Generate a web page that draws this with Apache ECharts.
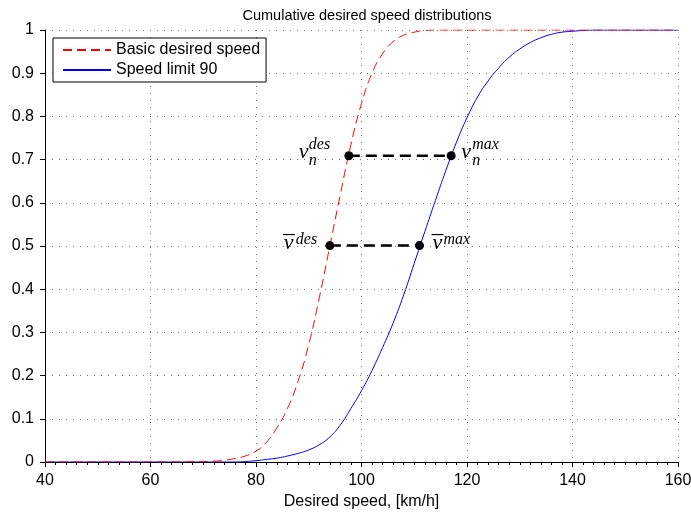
<!DOCTYPE html>
<html>
<head>
<meta charset="utf-8">
<script src="https://cdn.jsdelivr.net/npm/echarts@6/dist/echarts.min.js"></script>
<style>
html, body { margin: 0; background: #fff; }
#chart { width: 691px; height: 513px; }
</style>
</head>
<body>
<div id="chart"></div>
<script>
// values
const speeds = [40, 50, 60, 64, 66, 68, 70, 72, 74, 76, 78, 80, 82, 84, 86, 88, 90, 92, 94, 96, 98,
    100, 102, 104, 106, 108, 110, 112, 114, 116, 118, 120, 122, 124, 126, 128, 130, 132, 134, 136,
    138, 140, 142, 144, 146, 148, 150, 160];
const basicCdf = [0, 0, 0, 0, 0, 0.001, 0.001, 0.002, 0.004, 0.008, 0.014, 0.025, 0.046, 0.08, 0.125,
    0.188, 0.272, 0.38, 0.5, 0.62, 0.735, 0.83, 0.9, 0.945, 0.973, 0.988, 0.995, 0.999, 1, 1, 1, 1, 1, 1,
    1, 1, 1, 1, 1, 1, 1, 1, 1, 1, 1, 1, 1, 1];
const limitCdf = [0, 0, 0, 0, 0, 0, 0, 0, 0, 0, 0.001, 0.003, 0.006, 0.009, 0.014, 0.02, 0.028, 0.04,
    0.058, 0.086, 0.124, 0.165, 0.212, 0.265, 0.322, 0.387, 0.46, 0.533, 0.605, 0.675, 0.74, 0.797, 0.845,
    0.882, 0.912, 0.937, 0.956, 0.971, 0.982, 0.99, 0.995, 0.997, 0.999, 1, 1, 1, 1, 1];
const seriesNames = ['Basic desired speed', 'Speed limit 90'];

// marked points: v_n^des, v_n^max, v-bar^des, v-bar^max
const markSpeeds = [97.6, 117.0, 94.0, 111.0];
const markLevels = [0.709, 0.709, 0.501, 0.501];

const font = "'Liberation Sans', Arial, sans-serif";
const pairs = (xs, ys) => xs.map((x, i) => [x, ys[i]]);

const chart = echarts.init(document.getElementById('chart'));
const dotted = { color: '#777', width: 1, type: [1, 6] };

chart.setOption({
    animation: false,
    title: {
        text: 'Cumulative desired speed distributions',
        left: 362, top: 3, textAlign: 'center',
        textStyle: { fontFamily: font, fontSize: 14.5, fontWeight: 'normal', color: '#000' }
    },
    grid: { left: 45, right: 13, top: 30, bottom: 51, outerBoundsMode: 'none', containLabel: false },
    legend: {
        data: seriesNames,
        orient: 'vertical',
        left: 53, top: 38,
        padding: [4, 6, 4, 9],
        itemGap: 4,
        itemWidth: 48, itemHeight: 14,
        borderColor: '#000', borderWidth: 1,
        backgroundColor: '#fff',
        itemStyle: { opacity: 0, borderWidth: 0 },
        textStyle: { fontFamily: font, fontSize: 16, color: '#000' }
    },
    xAxis: {
        type: 'value', min: 40, max: 160, interval: 20,
        name: 'Desired speed, [km/h]', nameLocation: 'middle', nameGap: 30,
        nameTextStyle: { fontFamily: font, fontSize: 16, color: '#000' },
        axisLine: { lineStyle: { color: '#000', width: 1 } },
        axisTick: { length: 5, lineStyle: { color: '#000' } },
        minorTick: { show: true, splitNumber: 10, length: 3, lineStyle: { color: '#000' } },
        axisLabel: { fontFamily: font, fontSize: 16, color: '#000', margin: 11 },
        splitLine: { show: true, lineStyle: dotted }
    },
    yAxis: {
        type: 'value', min: 0, max: 1, interval: 0.1,
        axisLine: { show: true, lineStyle: { color: '#000', width: 1 } },
        axisTick: { show: true, length: 5, lineStyle: { color: '#000' } },
        axisLabel: { fontFamily: font, fontSize: 16, color: '#000', margin: 11 },
        splitLine: { show: true, lineStyle: dotted }
    },
    series: [
        {
            name: seriesNames[1], type: 'line', data: pairs(speeds, limitCdf),
            smooth: 0.5, symbol: 'none', z: 2,
            lineStyle: { color: '#0000ff', width: 1 }, itemStyle: { color: '#0000ff' }
        },
        {
            name: seriesNames[0], type: 'line', data: pairs(speeds, basicCdf),
            smooth: 0.5, symbol: 'none', z: 3,
            lineStyle: { color: '#ff0000', width: 1, type: [9, 5] }, itemStyle: { color: '#ff0000' }
        },
        {
            type: 'line', data: pairs(markSpeeds.slice(0, 2), markLevels.slice(0, 2)),
            symbol: 'none', z: 4, silent: true,
            lineStyle: { color: '#000', width: 2.5, type: [11, 6] }
        },
        {
            type: 'line', data: pairs(markSpeeds.slice(2, 4), markLevels.slice(2, 4)),
            symbol: 'none', z: 4, silent: true,
            lineStyle: { color: '#000', width: 2.5, type: [11, 6] }
        },
        {
            type: 'scatter', data: pairs(markSpeeds, markLevels),
            symbolSize: 9, z: 5, itemStyle: { color: '#000', opacity: 1 }
        }
    ]
});

// math labels next to the marked points
const serif = "italic 22px 'Liberation Serif', 'Times New Roman', serif";
const small = "italic 16px 'Liberation Serif', 'Times New Roman', serif";
const labelSpecs = [
    { v: -50, vy: -3, sup: 'des', supX: -40, supY: -11, sub: true, bar: false },
    { v: 10, vy: -3, sup: 'max', supX: 21, supY: -11, sub: true, bar: false },
    { v: -46, vy: -2, sup: 'des', supX: -34, supY: -6, sub: false, bar: true },
    { v: 13, vy: -2, sup: 'max', supX: 24, supY: -6, sub: false, bar: true }
];
const txt = (text, x, y, f) => ({
    type: 'text', z: 10,
    style: { text: text, x: x, y: y, font: f, fill: '#000',
        textAlign: 'left', textVerticalAlign: 'middle', align: 'left', verticalAlign: 'middle' }
});
const graphics = [];
labelSpecs.forEach((s, i) => {
    const p = chart.convertToPixel({ gridIndex: 0 }, [markSpeeds[i], markLevels[i]]);
    graphics.push(txt('v', p[0] + s.v, p[1] + s.vy, serif));
    graphics.push(txt(s.sup, p[0] + s.supX, p[1] + s.supY, small));
    if (s.sub) graphics.push(txt('n', p[0] + s.supX, p[1] + 5, small));
    if (s.bar) {
        graphics.push({
            type: 'line', z: 10,
            shape: { x1: p[0] + s.v - 1, y1: p[1] - 11, x2: p[0] + s.v + 11, y2: p[1] - 11 },
            style: { stroke: '#000', lineWidth: 1.2 }
        });
    }
});
chart.setOption({ graphic: graphics });
</script>
</body>
</html>
